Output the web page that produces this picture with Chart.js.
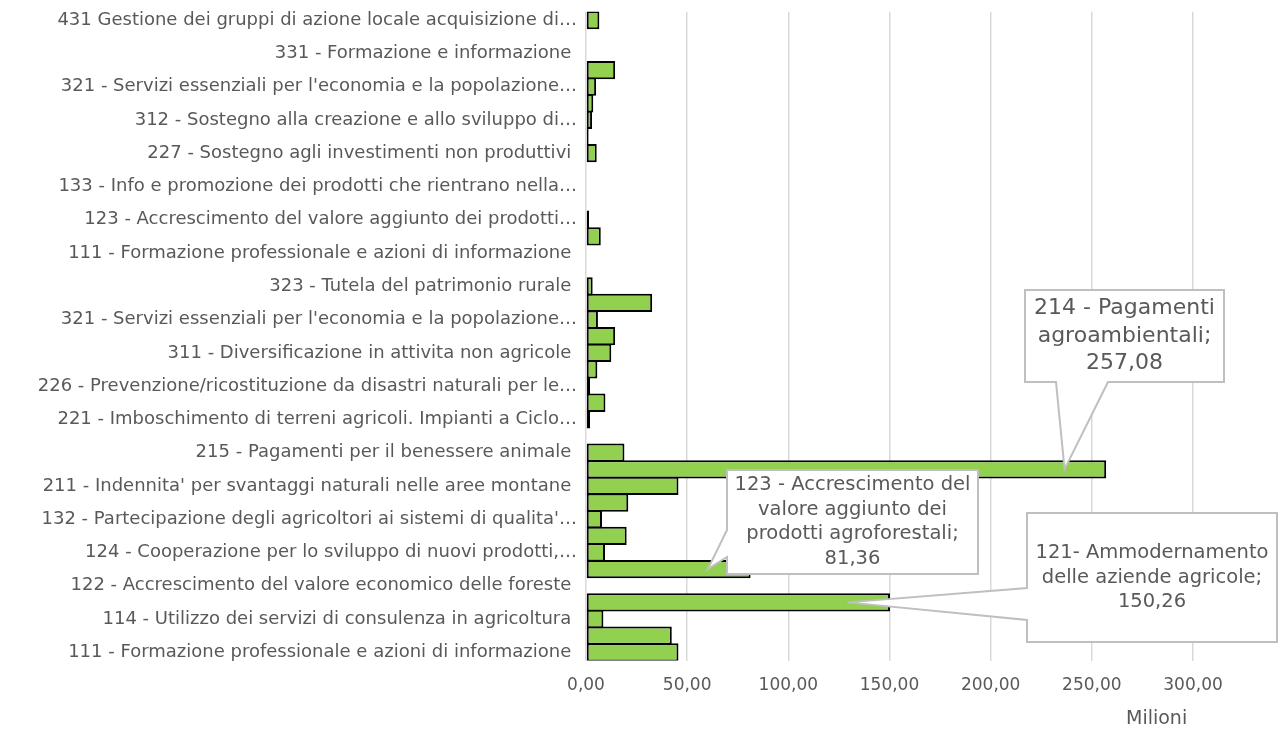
<!DOCTYPE html>
<html>
<head>
<meta charset="utf-8">
<script src="https://cdn.jsdelivr.net/npm/chart.js@4/dist/chart.umd.min.js"></script>
<style>
  body { margin: 0; background: #fff; }
  #box { width: 1278px; height: 729px; }
</style>
</head>
<body>
<div id="box"><canvas id="misure"></canvas></div>
<script>
// categorie dal basso verso l'alto (ordine di Excel)
var categorie = [
    "111 - Formazione professionale e azioni di informazione ",
    "112 - Insediamento di giovani agricoltori",
    "114 - Utilizzo dei servizi di consulenza in agricoltura ",
    "121- Ammodernamento delle aziende agricole",
    "122 - Accrescimento del valore economico delle foreste ",
    "123 - Accrescimento del valore aggiunto dei prodotti agroforestali",
    "124 - Cooperazione per lo sviluppo di nuovi prodotti,\u2026",
    "125 - Infrastrutture connesse allo sviluppo dell'agricoltura",
    "132 - Partecipazione degli agricoltori ai sistemi di qualita'\u2026",
    "133 - Attivita' di informazione e promozione",
    "211 - Indennita' per svantaggi naturali nelle aree montane ",
    "214 - Pagamenti agroambientali",
    "215 - Pagamenti per il benessere animale ",
    "216 - Sostegno agli investimenti non produttivi",
    "221 - Imboschimento di terreni agricoli. Impianti a Ciclo\u2026",
    "223 - Imboschimento di superfici non agricole",
    "226 - Prevenzione/ricostituzione da disastri naturali per le\u2026",
    "227 - Sostegno agli investimenti non produttivi",
    "311 - Diversificazione in attivita non agricole ",
    "312 - Sostegno alla creazione e allo sviluppo di microimprese",
    "321 - Servizi essenziali per l'economia e la popolazione\u2026",
    "322 - Sviluppo e rinnovamento dei villaggi",
    "323 - Tutela del patrimonio rurale ",
    "331 - Formazione e informazione",
    "111 - Formazione professionale e azioni di informazione ",
    "121 - Ammodernamento delle aziende agricole",
    "123 - Accrescimento del valore aggiunto dei prodotti\u2026",
    "125 - Infrastrutture connesse allo sviluppo dell'agricoltura",
    "133 - Info e promozione dei prodotti che rientrano nella\u2026",
    "226 - Ricostituzione del potenziale forestale",
    "227 - Sostegno agli investimenti non produttivi ",
    "311 - Diversificazione in attivita non agricole",
    "312 - Sostegno alla creazione e allo sviluppo di\u2026",
    "313 - Incentivazione di attivita' turistiche",
    "321 - Servizi essenziali per l'economia e la popolazione\u2026",
    "323 - Tutela e riqualificazione del patrimonio rurale",
    "331 - Formazione e informazione ",
    "421 - Cooperazione interterritoriale e transnazionale",
    "431 Gestione dei gruppi di azione locale acquisizione di\u2026"
];

// milioni di euro
var valori = [
    45.7, 42.4, 8.6, 150.26, 0, 81.36, 9.4, 20.1, 7.9, 20.9,
    45.7, 257.08, 19.0, 0, 2.0, 9.6, 2.0, 5.6, 12.5, 14.4,
    5.9, 32.7, 3.3, 0, 0, 7.3, 1.5, 0, 0, 0,
    5.3, 1.3, 3.0, 3.6, 5.0, 14.4, 0, 0, 6.6
];

var tickAsse = [0, 50, 100, 150, 200, 250, 300];

// etichette dati (fumetti)
var fumetti = [
    { indice: 11, righe: ["214 - Pagamenti", "agroambientali;"], punta: 0.92, corpo: 22,
      box: { x: 1025, y: 290, w: 199, h: 92 }, lato: "bottom", a: 1056, b: 1108, passo: 27.5 },
    { indice: 5, righe: ["123 - Accrescimento del", "valore aggiunto dei", "prodotti agroforestali;"], punta: 0.74, corpo: 19.5,
      box: { x: 727, y: 470, w: 251, h: 104 }, lato: "left", a: 530, b: 557, passo: 24.5 },
    { indice: 3, righe: ["121- Ammodernamento", "delle aziende agricole;"], punta: 0.86, corpo: 19.5,
      box: { x: 1027, y: 513, w: 250, h: 129 }, lato: "left", a: 588, b: 620, passo: 24.5 }
];

var grigio = "#595959";
var font = "'DejaVu Sans', sans-serif";

function numeroIt(v) {
    return v.toFixed(2).replace(".", ",");
}

function disegnaFumetto(ctx, f, tip) {
    var x = f.box.x, y = f.box.y, w = f.box.w, h = f.box.h;
    ctx.beginPath();
    ctx.moveTo(x, y);
    ctx.lineTo(x + w, y);
    ctx.lineTo(x + w, y + h);
    if (f.lato === "bottom") {
        ctx.lineTo(f.b, y + h);
        ctx.lineTo(tip.x, tip.y);
        ctx.lineTo(f.a, y + h);
    }
    ctx.lineTo(x, y + h);
    if (f.lato === "left") {
        ctx.lineTo(x, f.b);
        ctx.lineTo(tip.x, tip.y);
        ctx.lineTo(x, f.a);
    }
    ctx.closePath();
    ctx.fillStyle = "#ffffff";
    ctx.fill();
    ctx.strokeStyle = "#bfbfbf";
    ctx.lineWidth = 2;
    ctx.stroke();
}

var pluginFumetti = {
    id: "fumetti",
    afterDatasetsDraw: function (chart) {
        var ctx = chart.ctx;
        var sx = chart.scales.x, sy = chart.scales.y;
        ctx.save();
        for (var i in fumetti) {
            var f = fumetti[i];
            var v = valori[f.indice];
            var tip = { x: sx.getPixelForValue(v * f.punta), y: sy.getPixelForValue(f.indice) };
            disegnaFumetto(ctx, f, tip);
            var righe = f.righe.concat([numeroIt(v)]);
            ctx.fillStyle = grigio;
            ctx.font = f.corpo + "px " + font;
            ctx.textAlign = "center";
            ctx.textBaseline = "middle";
            var cx = f.box.x + f.box.w / 2;
            var y0 = f.box.y + f.box.h / 2 - (righe.length - 1) * f.passo / 2;
            for (var r = 0; r < righe.length; r++) {
                ctx.fillText(righe[r], cx, y0 + r * f.passo);
            }
        }
        // unita' di misura dell'asse
        ctx.font = "19px " + font;
        ctx.textAlign = "center";
        ctx.fillText("Milioni", sx.getPixelForValue(282), chart.height - 10);
        ctx.restore();
    }
};

var grafico = new Chart(document.getElementById("misure"), {
    type: "bar",
    data: {
        labels: categorie,
        datasets: [{
            data: valori,
            backgroundColor: "#92d050",
            borderColor: "#000000",
            borderWidth: 2,
            borderSkipped: false,
            categoryPercentage: 1,
            barPercentage: 1.1
        }]
    },
    options: {
        indexAxis: "y",
        responsive: true,
        maintainAspectRatio: false,
        animation: false,
        layout: { padding: { top: 7, right: 0, bottom: 18, left: 0 } },
        plugins: { legend: { display: false }, tooltip: { enabled: false } },
        scales: {
            x: {
                min: 0,
                max: 342,
                afterBuildTicks: function (s) {
                    s.ticks = tickAsse.map(function (v) { return { value: v }; });
                },
                grid: { color: "#d9d9d9", lineWidth: 1.5, drawTicks: false },
                border: { display: false },
                ticks: {
                    color: grigio,
                    font: { family: font, size: 17 },
                    padding: 15,
                    callback: function (v) { return numeroIt(v); }
                }
            },
            y: {
                reverse: true,
                grid: { display: false },
                border: { display: false },
                afterFit: function (s) { s.width = 586; },
                ticks: {
                    autoSkip: false,
                    color: grigio,
                    font: { family: font, size: 18 },
                    padding: 1,
                    callback: function (v, i) { return i % 2 === 0 ? categorie[i] : ""; }
                }
            }
        }
    },
    plugins: [pluginFumetti]
});
</script>
</body>
</html>
